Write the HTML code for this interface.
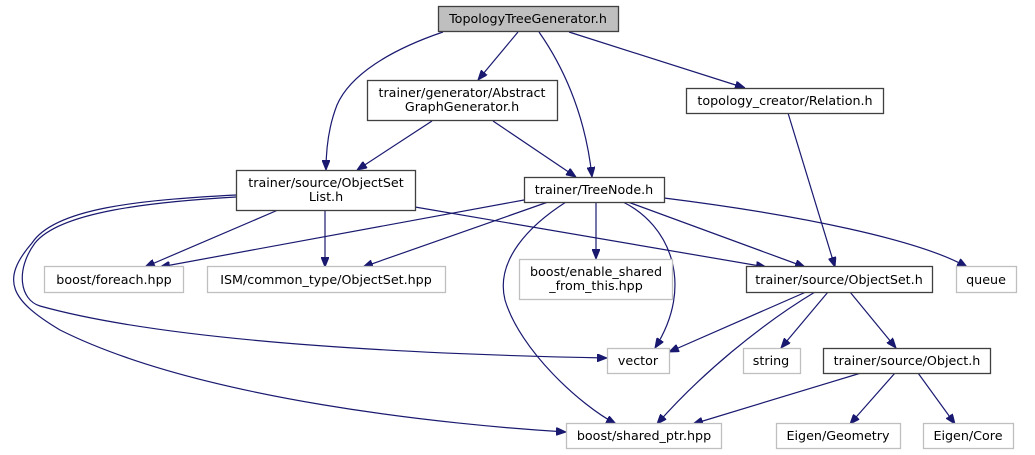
<!DOCTYPE html>
<html><head><meta charset="utf-8"><style>
html,body{margin:0;padding:0;background:#fff;}
svg{display:block;}
text{font-family:"DejaVu Sans","Liberation Sans",sans-serif;font-size:12.7px;fill:#000;text-anchor:middle;}
.e{fill:none;stroke:#191970;stroke-width:1.2;}
.b{fill:#fff;stroke:#404040;stroke-width:1.3;}
.g{fill:#fff;stroke:#bfbfbf;stroke-width:1.3;}
</style></head><body>
<svg width="1035" height="455" viewBox="0 0 1035 455" xmlns="http://www.w3.org/2000/svg">
<defs><marker id="a" viewBox="0 0 10 8" refX="10" refY="4" markerWidth="10" markerHeight="8" markerUnits="userSpaceOnUse" orient="auto"><path d="M0,0 L10,4 L0,8 z" fill="#191970" stroke="#191970"/></marker></defs>
<g marker-end="url(#a)">
<path class="e" d="M443,32 C390,50 350,75 337,105 C328,128 326,150 326,170"/>
<path class="e" d="M518,32 L478,80"/>
<path class="e" d="M539,32 C560,62 585,110 592,177"/>
<path class="e" d="M569,32 L745,88"/>
<path class="e" d="M432,121 L357,170"/>
<path class="e" d="M493,121 L576,177"/>
<path class="e" d="M788,113 L835,267"/>
<path class="e" d="M278,210 L145,267"/>
<path class="e" d="M325,210 L325,267"/>
<path class="e" d="M415,207 L766,267"/>
<path class="e" d="M236,197 C150,202 60,212 35,243 C15,270 20,300 40,306 C180,345 450,355 607,358"/>
<path class="e" d="M236,195 C140,200 55,208 32,243 C0,280 10,300 60,330 C200,400 450,425 566,432"/>
<path class="e" d="M524,200 L160,267"/>
<path class="e" d="M548,202 L363,267"/>
<path class="e" d="M596,202 L596,259"/>
<path class="e" d="M623,202 C670,225 695,285 655,348"/>
<path class="e" d="M566,202 C530,225 495,260 505,300 C520,350 580,405 616,424"/>
<path class="e" d="M628,202 L805,267"/>
<path class="e" d="M664,198 C800,215 920,240 967,267"/>
<path class="e" d="M806,292 L669,352"/>
<path class="e" d="M815,292 C760,325 700,375 657,424"/>
<path class="e" d="M828,292 L781,348"/>
<path class="e" d="M850,292 L896,348"/>
<path class="e" d="M861,373 L693,424"/>
<path class="e" d="M895,373 L850,424"/>
<path class="e" d="M918,373 L955,424"/>
</g>
<rect x="438.5" y="6.5" width="180" height="25" fill="#bfbfbf" stroke="#404040" stroke-width="1.3"/>
<text x="528" y="23">TopologyTreeGenerator.h</text>
<rect class="b" x="367.5" y="80.5" width="190" height="40"/>
<text x="462" y="97">trainer/generator/Abstract</text><text x="462" y="111">GraphGenerator.h</text>
<rect class="b" x="686.5" y="88.5" width="197" height="25"/>
<text x="785" y="105">topology_creator/Relation.h</text>
<rect class="b" x="236.5" y="170.5" width="179" height="40"/>
<text x="326" y="187">trainer/source/ObjectSet</text><text x="326" y="201">List.h</text>
<rect class="b" x="524.5" y="177.5" width="140" height="25"/>
<text x="594" y="194">trainer/TreeNode.h</text>
<rect class="g" x="44.5" y="266.5" width="139" height="26"/>
<text x="114" y="284">boost/foreach.hpp</text>
<rect class="g" x="207.5" y="266.5" width="238" height="26"/>
<text x="326" y="284">ISM/common_type/ObjectSet.hpp</text>
<rect class="g" x="519.5" y="259.5" width="153" height="40"/>
<text x="596" y="276">boost/enable_shared</text><text x="596" y="290">_from_this.hpp</text>
<rect class="b" x="746.5" y="266.5" width="186" height="26"/>
<text x="839" y="284">trainer/source/ObjectSet.h</text>
<rect class="g" x="956.5" y="266.5" width="60" height="26"/>
<text x="986" y="284">queue</text>
<rect class="g" x="607.5" y="348.5" width="62" height="25"/>
<text x="638" y="365">vector</text>
<rect class="g" x="743.5" y="348.5" width="57" height="25"/>
<text x="771" y="365">string</text>
<rect class="b" x="823.5" y="348.5" width="167" height="25"/>
<text x="907" y="365">trainer/source/Object.h</text>
<rect class="g" x="566.5" y="423.5" width="155" height="25"/>
<text x="644" y="440">boost/shared_ptr.hpp</text>
<rect class="g" x="776.5" y="423.5" width="124" height="25"/>
<text x="838" y="440">Eigen/Geometry</text>
<rect class="g" x="923.5" y="423.5" width="90" height="25"/>
<text x="968" y="440">Eigen/Core</text>
</svg>
</body></html>
